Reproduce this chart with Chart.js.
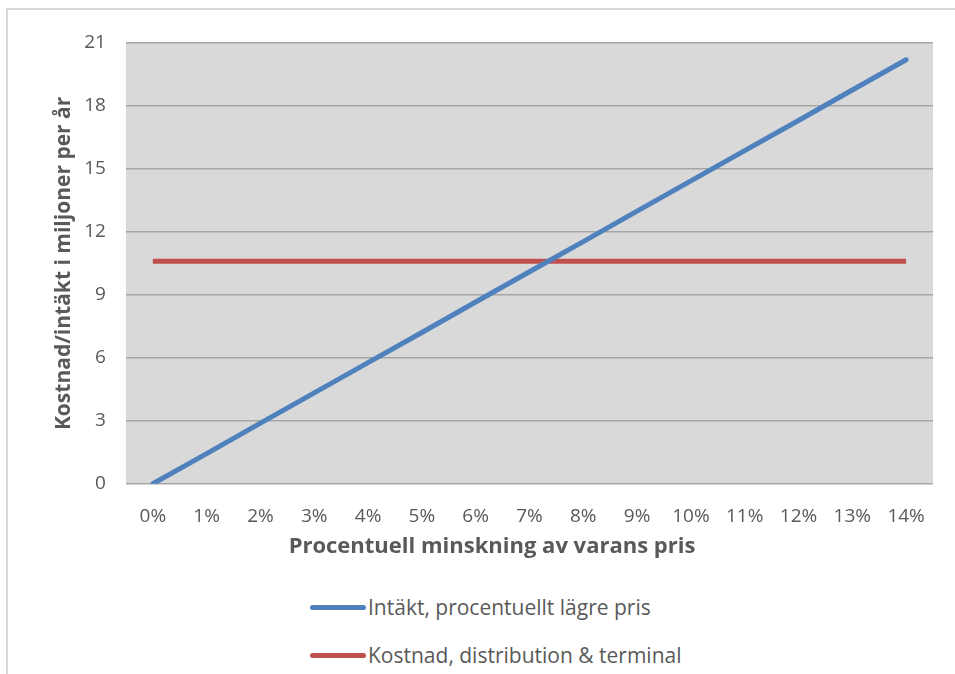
<!DOCTYPE html>
<html>
<head>
<meta charset="utf-8">
<script src="https://cdn.jsdelivr.net/npm/chart.js@4/dist/chart.umd.min.js"></script>
<style>
  html, body { margin: 0; padding: 0; background: #fff; overflow: hidden; }
  #wrap { position: relative; width: 955px; height: 674px; }
  #frame { position: absolute; left: 6px; top: 8px; width: 960px; height: 700px; border: 2px solid #d9d9d9; box-sizing: border-box; }
  #resultChart { position: absolute; left: 0; top: 0; }
  #legend { position: absolute; left: 310px; top: 583px; font-family: "Open Sans", sans-serif; font-size: 21px; color: #595959; }
  #legend div { height: 48px; display: flex; align-items: center; }
  #legend span.swatch { display: inline-block; width: 56px; height: 5px; border-radius: 3px; margin-right: 2px; }
</style>
</head>
<body>
<div id="wrap">
  <div id="frame"></div>
  <canvas id="resultChart" width="955" height="562"></canvas>
  <div id="legend"></div>
</div>
<script>
// data
const kategorier = ['0%', '1%', '2%', '3%', '4%', '5%', '6%', '7%', '8%', '9%', '10%', '11%', '12%', '13%', '14%'];
const intakt = [0, 1.44, 2.89, 4.33, 5.77, 7.21, 8.66, 10.1, 11.54, 12.99, 14.43, 15.87, 17.31, 18.76, 20.2];
const kostnad = [10.6, 10.6, 10.6, 10.6, 10.6, 10.6, 10.6, 10.6, 10.6, 10.6, 10.6, 10.6, 10.6, 10.6, 10.6];
const serieNamn = ['Intäkt, procentuellt lägre pris', 'Kostnad, distribution & terminal'];

const textFarg = '#595959';
const fontFamilj = '"Open Sans", sans-serif';

// gray plot background
const plotBakgrund = {
    id: 'plotBakgrund',
    beforeDraw(chart) {
        const {ctx, chartArea} = chart;
        ctx.save();
        ctx.fillStyle = '#d9d9d9';
        ctx.fillRect(chartArea.left, chartArea.top, chartArea.right - chartArea.left, chartArea.bottom - chartArea.top);
        ctx.restore();
    }
};

function byggLegend(chart){
    const legend = document.getElementById('legend');
    legend.innerHTML = '';
    chart.data.datasets.forEach(ds => {
        const rad = document.createElement('div');
        const swatch = document.createElement('span');
        swatch.className = 'swatch';
        swatch.style.background = ds.borderColor;
        rad.appendChild(swatch);
        rad.appendChild(document.createTextNode(ds.label));
        legend.appendChild(rad);
    });
}

const ctx = document.getElementById('resultChart');
const graf = new Chart(ctx, {
    type: 'line',
    data: {
        labels: kategorier,
        datasets: [{
            label: serieNamn[0],
            data: intakt,
            borderColor: '#4f81bd',
            borderWidth: 5,
            borderCapStyle: 'round',
            pointRadius: 0,
            tension: 0
        }, {
            label: serieNamn[1],
            data: kostnad,
            borderColor: '#c0504d',
            borderWidth: 5,
            pointRadius: 0,
            tension: 0
        }]
    },
    options: {
        responsive: false,
        animation: false,
        layout: { padding: { left: 51, right: 22, top: 43, bottom: 0 } },
        plugins: {
            legend: { display: false },
            tooltip: { enabled: false },
            // x axis title, centred on the whole chart like the original
            title: {
                display: true,
                position: 'bottom',
                text: 'Procentuell minskning av varans pris',
                color: textFarg,
                font: { family: fontFamilj, size: 22, weight: 'bold' },
                padding: { top: -7, bottom: 2 }
            }
        },
        scales: {
            x: {
                offset: true,
                grid: { display: false },
                border: { display: false },
                ticks: { color: textFarg, font: { family: fontFamilj, size: 19 }, padding: 13, maxRotation: 0 }
            },
            y: {
                min: 0,
                max: 21,
                ticks: { stepSize: 3, color: textFarg, font: { family: fontFamilj, size: 19 }, padding: 20 },
                grid: { color: '#a6a6a6', lineWidth: 1.5, drawTicks: false },
                border: { display: false },
                title: {
                    display: true,
                    text: 'Kostnad/intäkt i miljoner per år',
                    color: textFarg,
                    font: { family: fontFamilj, size: 21, weight: 'bold' },
                    padding: { top: 0, bottom: -12 }
                }
            }
        }
    },
    plugins: [plotBakgrund]
});
byggLegend(graf);
</script>
</body>
</html>
